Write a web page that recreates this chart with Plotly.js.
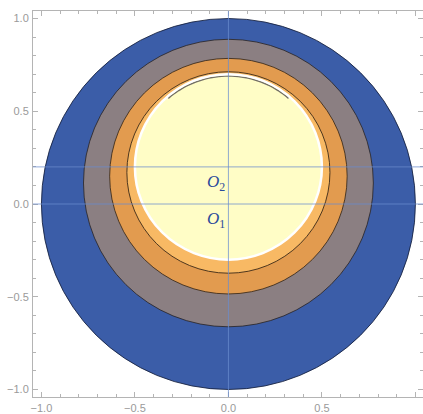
<!DOCTYPE html>
<html>
<head>
<meta charset="utf-8">
<script src="https://cdn.plot.ly/plotly-3.0.1.min.js"></script>
<style>html,body{margin:0;padding:0;background:#fff;}#chart{width:423px;height:414px;}</style>
</head>
<body>
<div id="chart"></div>
<script>
// Nested discs (outermost first): centre on x=0, centre y, radius
const discNames   = ['outer', 'gray', 'orange', 'innerRing', 'core'];
const discCenterX = [0, 0, 0, 0, 0];
const discCenterY = [0, 0.113, 0.15, 0.17, 0.2];
const discRadius  = [1.0, 0.775, 0.635, 0.543, 0.5];

// Arc inside the core disc (circle about O2, angles in degrees)
const arcCenter = [0, 0.2];
const arcRadius = 0.49;
const arcAngles = [49, 131];

// Reference lines
const hLines = [0, 0.2];
const vLines = [0];

// Point labels
const pointLabels = ['O', 'O'];
const pointSubs   = ['1', '2'];
const pointX      = [0, 0];
const pointY      = [0, 0.2];

// Ticks
const tickVals = [-1, -0.5, 0, 0.5, 1];
const tickText = ['\u22121.0', '\u22120.5', '0.0', '0.5', '1.0'];

// Styles
const discFill = ['#3b5da8', '#8b7f82', '#e29b4f', '#f8b964', '#fffdc6'];
const discLine = ['rgba(20,30,60,0.85)', 'rgba(40,35,35,0.8)', 'rgba(50,35,20,0.8)', 'rgba(50,35,20,0.85)', '#ffffff'];
const discLineW = [1, 1, 1, 1, 2.5];

const shapes = [];
for (let i = 0; i < discRadius.length; i++) {
  const cx = discCenterX[i], cy = discCenterY[i], r = discRadius[i];
  shapes.push({type: 'circle', xref: 'x', yref: 'y',
    x0: cx - r, x1: cx + r, y0: cy - r, y1: cy + r,
    fillcolor: discFill[i], line: {color: i === 4 ? 'rgba(0,0,0,0)' : discLine[i], width: discLineW[i]}, layer: 'above'});
}
// arc path built from arc parameters
(function () {
  const n = 40; let d = '';
  for (let k = 0; k <= n; k++) {
    const a = (arcAngles[0] + (arcAngles[1] - arcAngles[0]) * k / n) * Math.PI / 180;
    const x = arcCenter[0] + arcRadius * Math.cos(a);
    const y = arcCenter[1] + arcRadius * Math.sin(a);
    d += (k === 0 ? 'M' : 'L') + x.toFixed(4) + ',' + y.toFixed(4);
  }
  shapes.push({type: 'path', xref: 'x', yref: 'y', path: d, line: {color: 'rgba(100,95,90,0.9)', width: 1.5}, layer: 'above'});
})();
// white outline of core disc on top
shapes.push({type: 'circle', xref: 'x', yref: 'y',
  x0: discCenterX[4] - discRadius[4], x1: discCenterX[4] + discRadius[4],
  y0: discCenterY[4] - discRadius[4], y1: discCenterY[4] + discRadius[4],
  line: {color: '#ffffff', width: 2.5}, layer: 'above'});
hLines.forEach(v => shapes.push({type: 'line', xref: 'paper', yref: 'y', x0: 0, x1: 1, y0: v, y1: v,
  line: {color: 'rgba(105,140,205,0.75)', width: 1}, layer: 'above'}));
vLines.forEach(v => shapes.push({type: 'line', xref: 'x', yref: 'paper', x0: v, x1: v, y0: 0, y1: 1,
  line: {color: 'rgba(105,140,205,0.75)', width: 1}, layer: 'above'}));

const annotations = pointLabels.map((t, i) => ({
  x: pointX[i], y: pointY[i], xref: 'x', yref: 'y',
  text: '<i>' + t + '</i><sub>' + pointSubs[i] + '</sub>',
  showarrow: false, xanchor: 'right', yanchor: 'top', xshift: -1, yshift: -3,
  font: {family: 'Liberation Serif, serif', size: 17, color: '#2b4b9b'}
}));

const axisCommon = {
  showgrid: false, zeroline: false, showline: true, linecolor: '#b4b4b4', linewidth: 1,
  mirror: 'ticks', ticks: 'inside', ticklen: 5, tickcolor: '#b4b4b4', tickwidth: 1,
  tickmode: 'array', tickvals: tickVals, ticktext: tickText,
  tickfont: {family: 'Liberation Sans, sans-serif', size: 11, color: '#9a9a9a'},
  minor: {ticks: 'inside', ticklen: 3, tickcolor: '#b4b4b4', tickmode: 'linear', tick0: 0, dtick: 0.1, showgrid: false},
  fixedrange: true
};

const layout = {
  width: 423, height: 414,
  margin: {l: 33, r: 0, t: 11, b: 17},
  paper_bgcolor: '#ffffff', plot_bgcolor: '#ffffff',
  showlegend: false,
  xaxis: Object.assign({}, axisCommon, {range: [-1.045, 1.0406], ticklabelstandoff: 1}),
  yaxis: Object.assign({}, axisCommon, {range: [-1.0405, 1.0405], ticklabelstandoff: 1}),
  shapes: shapes,
  annotations: annotations
};

Plotly.newPlot('chart', [{x: [], y: [], type: 'scatter', mode: 'markers', hoverinfo: 'skip'}], layout, {displayModeBar: false, staticPlot: true});
</script>
</body>
</html>
